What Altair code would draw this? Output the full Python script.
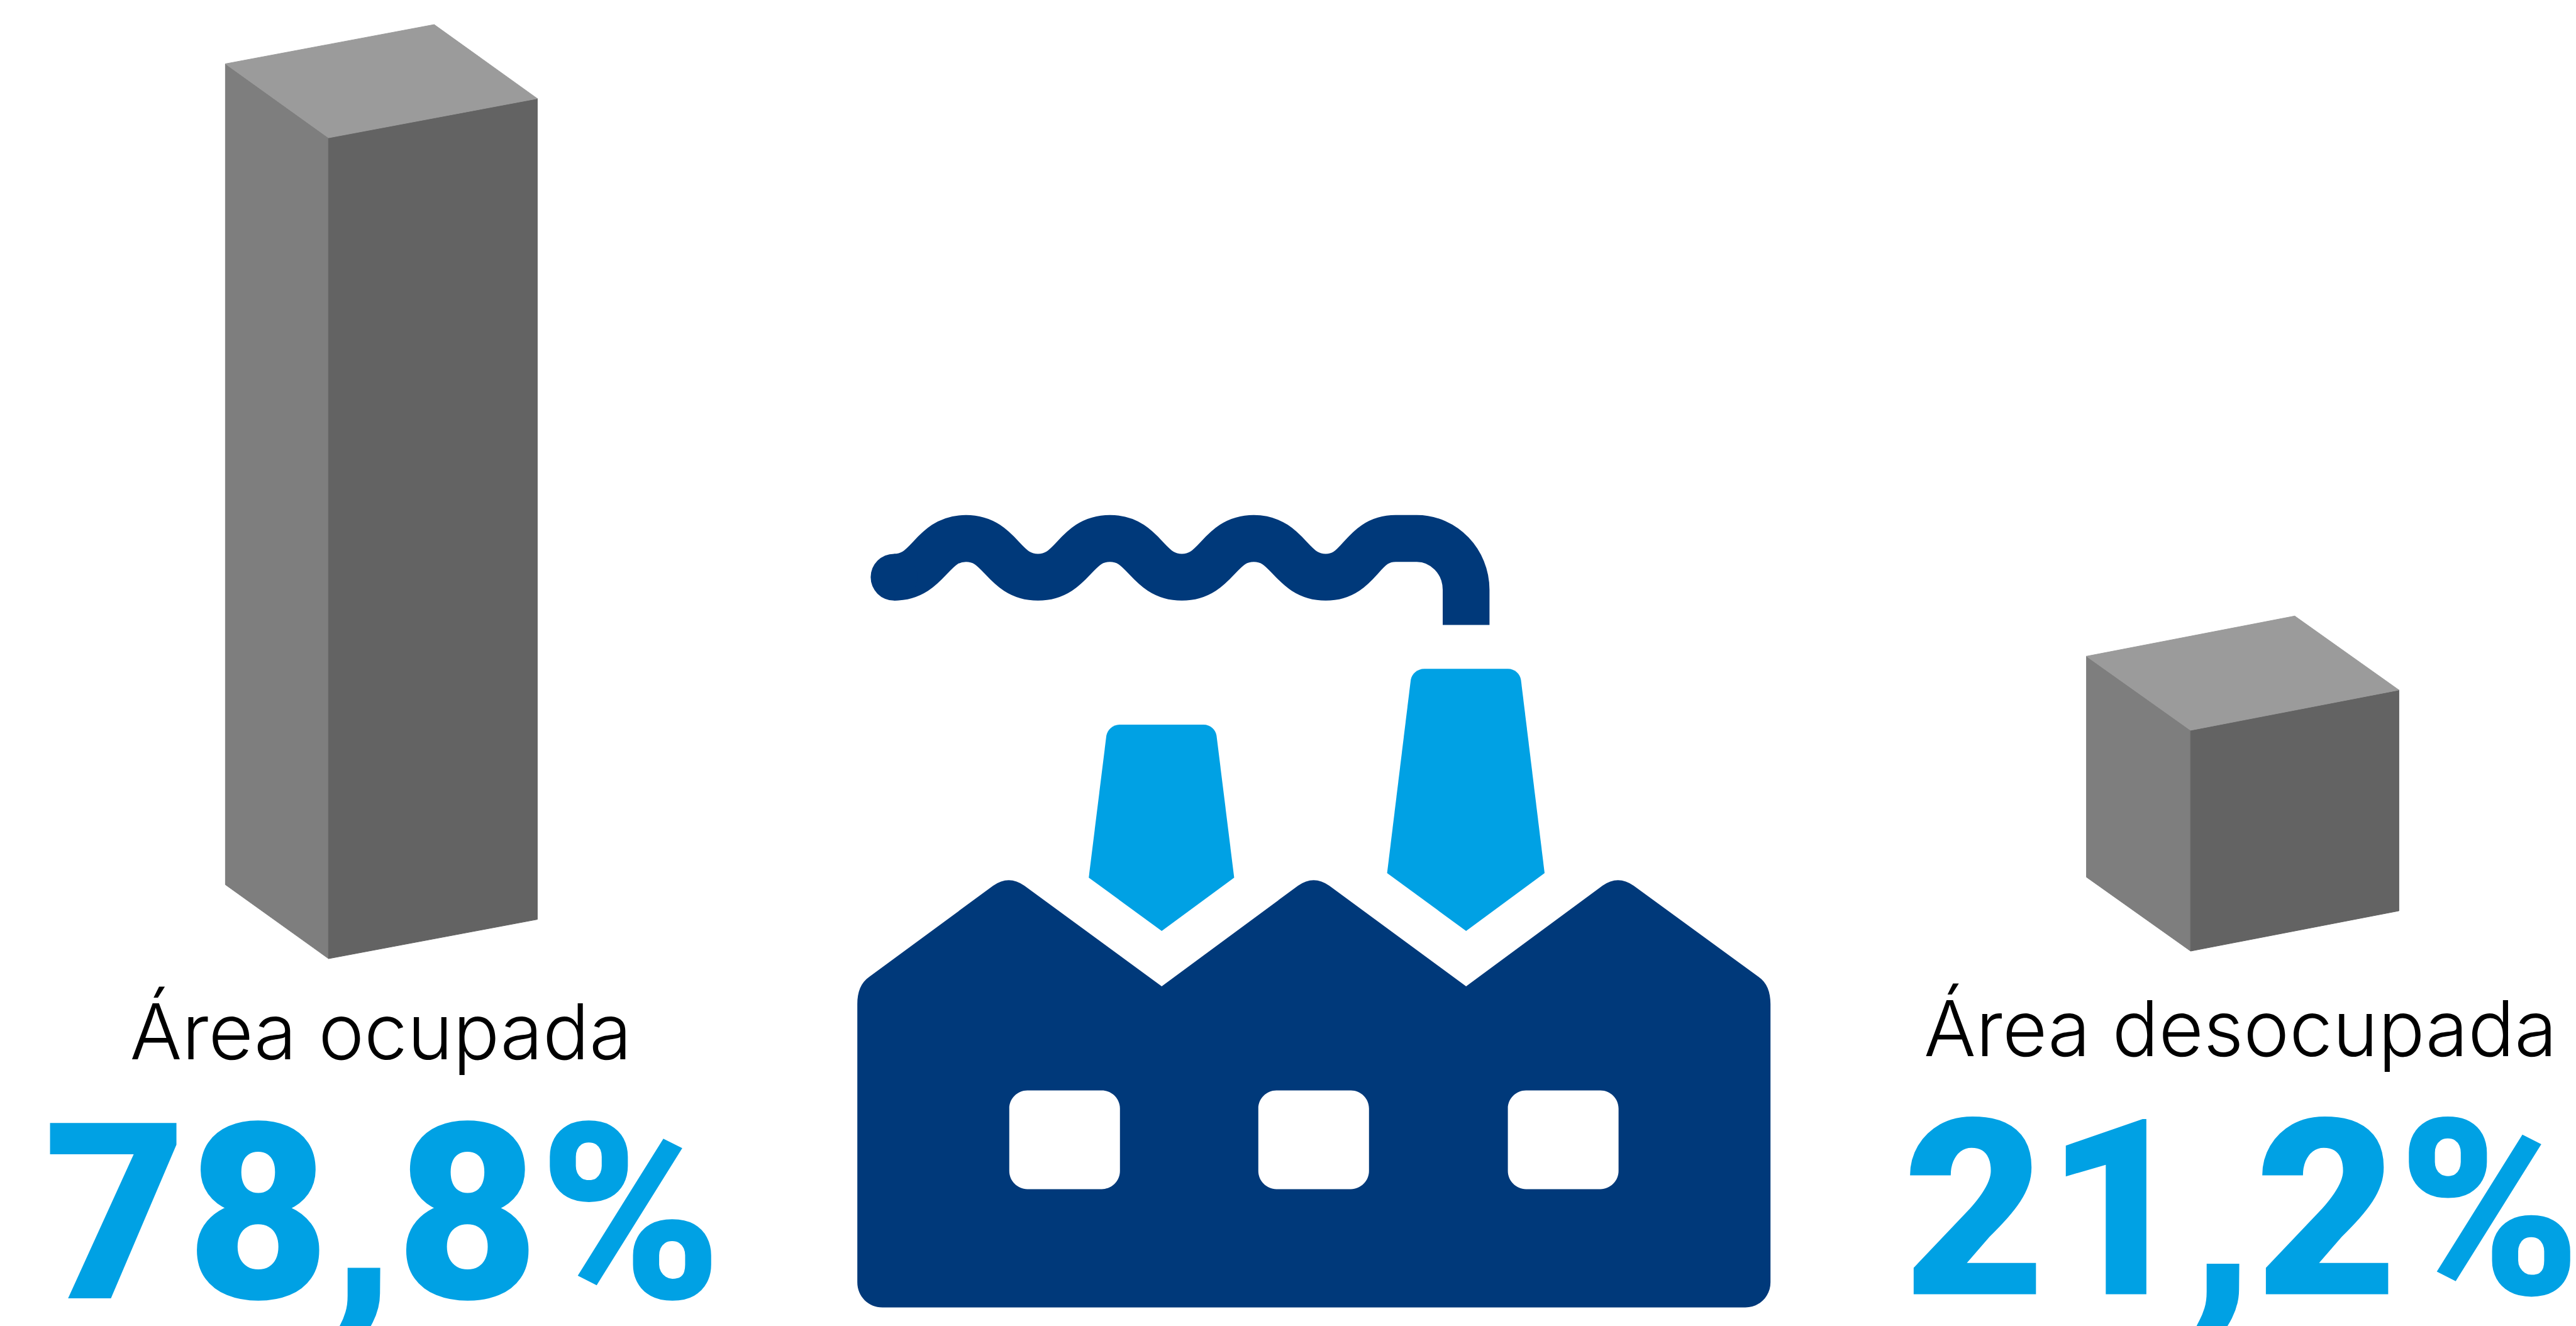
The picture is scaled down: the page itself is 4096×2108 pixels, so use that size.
import altair as alt
import pandas as pd

# Occupied / vacant share of the industrial area
AREA_LABELS = ["Área ocupada", "Área desocupada"]
AREA_SHARES = [78.8, 21.2]

WIDTH, HEIGHT = 4096, 2108
SCALE = 0.8               # drawing units to window pixels
UNITS_PER_POINT = 20.7    # box height per percentage point, in drawing units

GREY_TOP, GREY_LEFT, GREY_FRONT = "#9b9b9b", "#7e7e7e", "#636363"
NAVY, SKY = "#00397a", "#00a1e4"

# Foot of each box: x of left/front/right edges, and the y of those edges at the ground
BOX_FEET = [
    ((448, 653, 1068), (1758, 1905, 1827)),
    ((4147, 4354, 4768), (1743, 1890, 1810)),
]
LABEL_SPOTS = [(757, 2105, 761, 2580), (4453, 2099, 4456, 2572)]


def box_faces(share, feet):
    """Left, front and top faces of an isometric box whose height follows share."""
    (xl, xm, xr), (yl, ym, yr) = feet
    h = share * UNITS_PER_POINT
    tl, tm, tr = yl - h, ym - h, yr - h
    xb, tb = xl + xr - xm, tl + tr - tm
    left = [(xl, tl, yl), (xm, tm, ym)]
    front = [(xm, tm, ym), (xr, tr, yr)]
    # upper edge runs left-back-right, lower edge runs left-front-right
    upper_at_m = tl + (tb - tl) * (xm - xl) / (xb - xl)
    lower_at_b = tm + (tr - tm) * (xb - xm) / (xr - xm)
    top = [(xl, tl, tl), (xm, upper_at_m, tm), (xb, tb, lower_at_b), (xr, tr, tr)]
    return {"left": left, "front": front, "top": top}


rows = []
for i, (share, feet) in enumerate(zip(AREA_SHARES, BOX_FEET)):
    for face, pts in box_faces(share, feet).items():
        for x, y, y2 in pts:
            rows.append({"box": i, "face": face, "x": x * SCALE, "y": y * SCALE, "y2": y2 * SCALE})
faces = pd.DataFrame(rows)

x_scale = alt.Scale(domain=[0, WIDTH], range=[0, WIDTH], nice=False, zero=False)
y_scale = alt.Scale(domain=[0, HEIGHT], range=[0, HEIGHT], nice=False, zero=False)
X = lambda f: alt.X(f, type="quantitative", scale=x_scale, axis=None)
Y = lambda f: alt.Y(f, type="quantitative", scale=y_scale, axis=None)


def face_layer(name, colour):
    return (
        alt.Chart(faces[faces.face == name])
        .mark_area(color=colour, stroke=colour, strokeWidth=1, interpolate="linear",
                   opacity=1, orient="vertical")
        .encode(x=X("x"), y=Y("y"), y2="y2", detail="box:N")
    )


def window_hole(x0, x1, y0=2167, y1=2363, r=36):
    # wound against the factory outline so it stays open
    k = r * 0.45
    return (
        f"M{x0 + r} {y0} C{x0 + k} {y0} {x0} {y0 + k} {x0} {y0 + r} L{x0} {y1 - r} "
        f"C{x0} {y1 - k} {x0 + k} {y1} {x0 + r} {y1} L{x1 - r} {y1} "
        f"C{x1 - k} {y1} {x1} {y1 - k} {x1} {y1 - r} L{x1} {y0 + r} "
        f"C{x1} {y0 + k} {x1 - k} {y0} {x1 - r} {y0} Z"
    )


FACTORY = (
    "M1704 1995 C1704 1972 1711 1952 1728 1941 L1974 1760 Q2005 1738 2036 1760 L2309 1960 "
    "L2580 1760 Q2611 1738 2642 1760 L2914 1960 L3185 1760 Q3216 1738 3247 1760 "
    "L3495 1941 C3512 1952 3519 1972 3519 1995 L3519 2548 C3519 2576 3497 2598 3469 2598 "
    "L1754 2598 C1726 2598 1704 2576 1704 2548 Z "
    + window_hole(2006, 2226) + " " + window_hole(2501, 2721) + " " + window_hole(2997, 3217)
)
CHIMNEY_LOW = (
    "M2226 1440 L2392 1440 C2406 1440 2416 1450 2418 1462 L2453 1744 L2309 1850 L2164 1744 "
    "L2199 1462 C2201 1450 2212 1440 2226 1440 Z"
)
CHIMNEY_TALL = (
    "M2831 1329 L2997 1329 C3011 1329 3021 1339 3023 1351 L3070 1735 L2914 1850 L2757 1735 "
    "L2804 1351 C2806 1339 2817 1329 2831 1329 Z"
)
SMOKE = (
    "M1777 1147 C1848 1147 1849 1070 1920 1070 C1991 1070 1992 1147 2063 1147 "
    "C2134 1147 2135 1070 2206 1070 C2277 1070 2278 1147 2349 1147 "
    "C2420 1147 2421 1070 2492 1070 C2563 1070 2564 1147 2635 1147 "
    "C2705 1147 2704 1070 2774 1070 L2816 1070 C2870 1070 2914 1116 2914 1172 L2914 1242"
)

icon_row = pd.DataFrame({"part": ["icon"]})
# a path symbol is drawn at sqrt(size) / 2 times its own units
PATH_SIZE = (2 * SCALE) ** 2
SMOKE_WIDTH = 93 * SCALE


def icon_layer(path, colour):
    return (
        alt.Chart(icon_row)
        .mark_point(shape=path, size=PATH_SIZE, filled=True, fill=colour, stroke=None, opacity=1)
        .encode(x=alt.value(0), y=alt.value(0))
    )


smoke = (
    alt.Chart(icon_row)
    .mark_point(shape=SMOKE, size=PATH_SIZE, filled=False, stroke=NAVY, strokeWidth=SMOKE_WIDTH,
                strokeCap="butt", opacity=1)
    .encode(x=alt.value(0), y=alt.value(0))
)
# round end of the smoke trail; the circle symbol's diameter is sqrt(size)
smoke_tip = (
    alt.Chart(icon_row)
    .mark_circle(color=NAVY, size=SMOKE_WIDTH ** 2, opacity=1)
    .encode(x=alt.value(1777 * SCALE), y=alt.value(1147 * SCALE))
)

labels = pd.DataFrame(
    {
        "name": AREA_LABELS,
        "pct": [f"{v:.1f}".replace(".", ",") + "%" for v in AREA_SHARES],
        "name_x": [s[0] * SCALE for s in LABEL_SPOTS],
        "name_y": [s[1] * SCALE for s in LABEL_SPOTS],
        "pct_x": [s[2] * SCALE for s in LABEL_SPOTS],
        "pct_y": [s[3] * SCALE for s in LABEL_SPOTS],
    }
)

name_text = (
    alt.Chart(labels)
    .mark_text(font="Inter", fontWeight=300, fontSize=123, color="#000000",
               align="center", baseline="alphabetic")
    .encode(x=X("name_x"), y=Y("name_y"), text="name:N")
)
pct_text = (
    alt.Chart(labels)
    .mark_text(font="Roboto", fontWeight=900, fontSize=392, color=SKY,
               align="center", baseline="alphabetic")
    .encode(x=X("pct_x"), y=Y("pct_y"), text="pct:N")
)

chart = (
    alt.layer(
        face_layer("left", GREY_LEFT),
        face_layer("front", GREY_FRONT),
        face_layer("top", GREY_TOP),
        smoke,
        smoke_tip,
        icon_layer(CHIMNEY_LOW, SKY),
        icon_layer(CHIMNEY_TALL, SKY),
        icon_layer(FACTORY, NAVY),
        name_text,
        pct_text,
    )
    .properties(
        width=WIDTH,
        height=HEIGHT,
        padding=0,
        background="#ffffff",
        autosize=alt.AutoSizeParams(type="none", contains="padding"),
    )
    .configure_view(stroke=None)
)

chart.save("out.html", embed_options={"renderer": "svg", "actions": False})
